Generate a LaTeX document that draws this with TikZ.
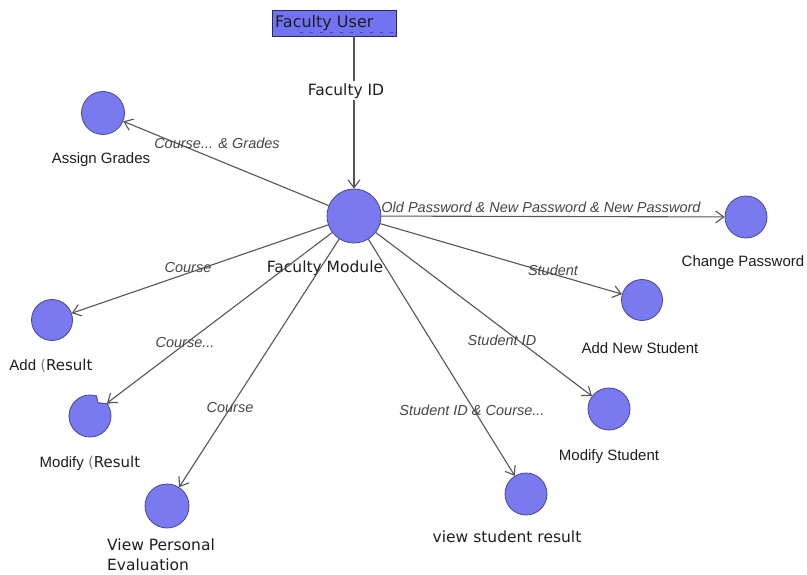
\documentclass[tikz,border=0pt]{standalone}
\usepackage{fontspec}
\setmainfont{Liberation Sans}
\newfontfamily\vera{DejaVu Sans}
\usetikzlibrary{arrows.meta}

\definecolor{ucfill}{RGB}{122,122,240}
\definecolor{ucline}{RGB}{70,70,150}
\definecolor{boxfill}{RGB}{114,114,242}
\definecolor{flowc}{RGB}{85,85,85}
\definecolor{labc}{RGB}{70,70,70}
\definecolor{txtc}{RGB}{30,30,30}

\tikzset{
  uc/.style={circle, draw=ucline, fill=ucfill, line width=0.8pt, inner sep=0pt, minimum size=#1},
  uc/.default=42pt,
  actorbox/.style={rectangle, draw=ucline!60!black, fill=boxfill, line width=0.8pt,
    minimum width=124pt, minimum height=26pt, inner sep=0pt},
  flow/.style={draw=flowc, line width=1.1pt, -{Straight Barb[length=8pt,width=12pt]}},
  elab/.style={font=\fontsize{14.5}{16}\selectfont\itshape, text=labc, inner sep=0pt},
  nlab/.style={font=\fontsize{15}{17}\selectfont, text=txtc, inner sep=0pt},
  vlab/.style={font=\vera\fontsize{15.5}{20}\selectfont, text=txtc, inner sep=0pt},
}

\begin{document}
\begin{tikzpicture}[x=1pt,y=-1pt]
  \path[use as bounding box, fill=white] (0,0) rectangle (807,575);

  % actor
  \node[actorbox] (fu) at (334,23) {};
  \draw[draw=ucline, dash pattern=on 3pt off 7pt, line width=0.5pt] (300,32) -- (395,32);
  \node[vlab, font=\vera\fontsize{16}{20}\selectfont, anchor=west] (futxt) at (275,23) {Faculty User};

  % processes
  \node[uc=54pt] (mod) at (354,216) {};
  \node[uc=43pt] (ag)  at (103,113) {};
  \node[uc=42pt] (cp)  at (746,217) {};
  \node[uc=41pt] (ans) at (642,300) {};
  \node[uc=42pt] (ms)  at (609,409) {};
  \node[uc=42pt] (vsr) at (526,494) {};
  \node[uc=41pt] (ar)  at (52,320) {};
  \node[uc=42pt] (mr)  at (90,416) {};
  \node[uc=44pt] (vpe) at (167,506) {};

  % bite taken out of the Modify Result circle
  \fill[white] (97,392) -- (97,402) -- (113,404) -- (113,392) -- cycle;
  \draw[ucline, line width=0.8pt] (96.5,395.5) -- (98,403) -- (110.5,404);

  % process names
  \node[vlab] (modtxt) at (325,268) {Faculty Module};
  \node[nlab] (agtxt)  at (101,160) {Assign Grades};
  \node[nlab] (cptxt)  at (743,263) {Change Password};
  \node[nlab] (anstxt) at (640,348) {Add New Student};
  \node[nlab] (mstxt)  at (609,457) {Modify Student};
  \node[vlab] (vsrtxt) at (507,537) {view student result};
  \node[nlab] (artxt)  at (51,366) {Add {\color{gray}\vera(}{\vera Result}};
  \node[nlab] (mrtxt)  at (90,463) {Modify {\color{gray}\vera(}{\vera Result}};
  \node[vlab, anchor=north west, align=left] (vpetxt) at (107,539) {View Personal\\Evaluation};

  % data flows
  \draw[flow] (fu.south -| mod.north) -- (mod.north);
  \node[vlab, fill=white, inner sep=2pt] (fid) at (346,91) {Faculty ID};

  \draw[flow] (mod) -- (ag);
  \draw[flow] (mod) -- (cp);
  \draw[flow] (mod) -- (ans);
  \draw[flow] (mod) -- (ms);
  \draw[flow] (mod) -- (vsr);
  \draw[flow] (mod) -- (ar);
  \draw[flow] (mod) -- (mr);
  \draw[flow] (mod) -- (vpe);

  % flow labels
  \node[elab] (lag)  at (217,143) {Course... \& Grades};
  \node[elab] (lcp)  at (541,207) {Old Password \& New Password \& New Password};
  \node[elab] (lans) at (553,270) {Student};
  \node[elab] (lms)  at (502,340) {Student ID};
  \node[elab] (lvsr) at (472,410) {Student ID \& Course...};
  \node[elab] (lar)  at (188,268) {Course};
  \node[elab] (lmr)  at (185,343) {Course...};
  \node[elab] (lvpe) at (230,408) {Course};
\end{tikzpicture}
\end{document}
